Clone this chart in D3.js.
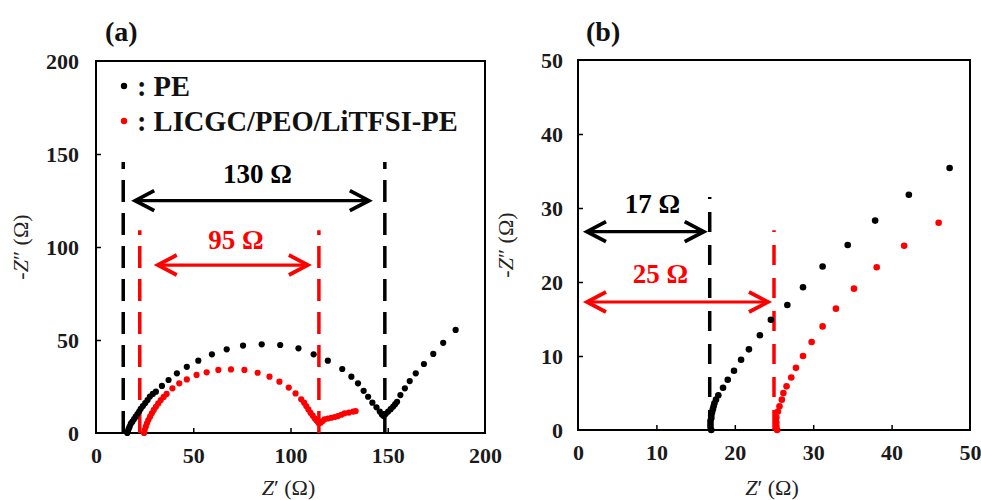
<!DOCTYPE html>
<html><head><meta charset="utf-8">
<script src="https://cdn.jsdelivr.net/npm/d3@7"></script>
<style>
html,body{margin:0;padding:0;background:#fff;}
svg{display:block;}
text{font-family:"Liberation Serif","DejaVu Serif",serif;}
</style></head>
<body>
<svg id="chart" width="981" height="500"></svg>
<script>
// ---------- data ----------
const seriesNames = ["PE", "LICGC/PEO/LiTFSI-PE"];
const seriesColors = ["#000000", "#ff0000"];

// Panel (a): Nyquist plot, full range
const aPE_x = [16.1,16.4,16.8,17.3,17.9,18.7,19.6,20.4,21.3,22.2,23.0,24.1,25.3,26.5,27.7,29.2,30.8,33.9,37.3,41.6,46.7,52.6,59.6,67.2,75.6,85.2,94.7,104.1,111.9,119.2,126.6,131.3,134.7,137.6,139.9,142.1,144.2,145.9,147.0,147.9,149.0,150.2,151.5,152.8,153.8,154.8,156.5,158.8,161.3,164.4,168.6,173.4,178.5,184.9];
const aPE_y = [0.0,1.0,2.2,3.4,5.0,6.1,7.5,8.8,10.2,11.5,13.0,14.5,16.1,17.7,19.6,21.0,22.2,25.3,28.5,32.1,35.6,38.9,42.3,45.0,47.0,47.7,47.3,45.5,42.3,38.9,34.4,30.3,26.7,22.7,19.5,16.3,13.8,11.5,10.0,9.1,10.3,11.5,12.8,14.2,15.5,16.8,20.4,24.0,27.9,32.1,37.1,42.5,48.5,55.4];
const aLI_x = [24.7,25.0,25.6,26.2,26.9,27.8,28.7,29.7,30.8,32.0,33.3,34.8,36.3,39.3,42.8,46.7,51.7,56.9,62.9,69.4,76.3,83.1,89.2,94.3,99.1,102.6,105.5,107.0,108.1,109.2,110.3,111.4,112.4,113.3,114.1,114.6,115.5,116.5,117.5,119.2,121.0,122.7,124.4,126.1,127.8,130.0,132.2,133.5];
const aLI_y = [0.0,1.6,3.4,5.2,7.0,8.8,10.6,12.4,14.1,15.9,17.7,19.4,21.0,24.0,26.7,28.8,31.2,32.6,33.9,34.2,33.9,32.4,30.3,27.6,24.4,21.3,18.1,16.3,14.5,12.7,10.9,9.4,7.9,6.8,6.0,5.2,5.5,6.4,7.4,7.8,8.2,8.6,9.1,9.8,10.6,11.0,11.5,11.8];

// Panel (b): high-frequency zoom
const bPE_x = [17.0,16.9,16.9,16.9,17.0,17.0,17.1,17.2,17.3,17.4,17.6,17.9,18.5,19.1,19.9,20.8,21.8,23.2,24.6,26.7,28.7,31.2,34.4,37.9,42.2,47.4];
const bPE_y = [0.0,0.4,0.8,1.2,1.6,2.0,2.4,2.8,3.2,3.6,4.1,4.7,5.7,6.8,8.0,9.5,10.9,12.8,14.9,16.9,19.3,22.1,25.0,28.3,31.8,35.4];
const bLI_x = [25.4,25.3,25.3,25.3,25.5,25.7,26.0,26.2,26.6,27.2,27.8,28.7,29.8,31.2,32.9,35.2,38.1,41.6,46.0];
const bLI_y = [0.0,0.5,1.0,1.7,2.5,3.2,4.1,5.0,5.9,7.1,8.4,10.0,11.9,14.0,16.4,19.1,22.0,24.9,28.0];

// axes / ticks
const aTicks = [0, 50, 100, 150, 200];
const bTicks = [0, 10, 20, 30, 40, 50];
const panelLabels = ["(a)", "(b)"];

// annotations: resistance markers
const aMarkers = [
  {x0: 14.0, x1: 148.5, ay: 124.9, top: 145.7, label: "130 Ω", c: 0, lx: 83, ly: 134.5},
  {x0: 22.5, x1: 114.6, ay: 90.3, top: 109.0, label: "95 Ω", c: 1, lx: 72, ly: 99}
];
const bMarkers = [
  {x0: 0, x1: 16.8, ay: 26.8, top: 31.5, label: "17 Ω", c: 0, lx: 9.5, ly: 29.3},
  {x0: 0, x1: 25.0, ay: 17.3, top: 27.0, label: "25 Ω", c: 1, lx: 10.5, ly: 19.8}
];

// ---------- drawing ----------
const svg = d3.select("#chart");
function zip(xs, ys){ return xs.map((x,i)=>[x, ys[i]]); }

function panel(opts){
  const {xr, yr, xd, ticks, label, labelX, ytitleX, tickPadY} = opts;
  const x = d3.scaleLinear().domain(xd).range(xr);
  const y = d3.scaleLinear().domain(xd).range(yr);
  const g = svg.append("g");

  const xa = g.append("g").attr("transform", `translate(0,${yr[0]})`)
    .call(d3.axisBottom(x).tickValues(ticks).tickSize(-5).tickPadding(14));
  const ya = g.append("g").attr("transform", `translate(${xr[0]},0)`)
    .call(d3.axisLeft(y).tickValues(ticks).tickSize(-5).tickPadding(tickPadY));
  [xa, ya].forEach(a=>{
    a.select(".domain").remove();
    a.selectAll(".tick line").attr("stroke","#000").attr("stroke-width",1.5);
    a.selectAll(".tick text").attr("font-size",22).attr("font-weight","bold")
      .attr("fill","#1a1a1a").style("font-family",'"Liberation Serif",serif');
  });
  xa.selectAll(".tick").filter(d=>d===ticks[0] || d===ticks[ticks.length-1]).select("line").remove();
  ya.selectAll(".tick").filter(d=>d===ticks[0] || d===ticks[ticks.length-1]).select("line").remove();

  g.append("rect").attr("x",xr[0]).attr("y",yr[1]).attr("width",xr[1]-xr[0]).attr("height",yr[0]-yr[1])
    .attr("fill","none").attr("stroke","#000").attr("stroke-width",2);

  g.append("text").attr("x",(xr[0]+xr[1])/2 - 2).attr("y",495).attr("text-anchor","middle")
    .attr("font-size",22).attr("fill","#222")
    .html('<tspan font-style="italic">Z</tspan>′ (Ω)');
  g.append("text").attr("transform",`translate(${ytitleX},${(yr[0]+yr[1])/2})rotate(-90)`)
    .attr("text-anchor","middle").attr("font-size",22).attr("fill","#222")
    .html('-<tspan font-style="italic">Z</tspan>″ (Ω)');
  g.append("text").attr("x",labelX).attr("y",41).attr("font-size",28).attr("font-weight","bold")
    .attr("fill","#111").text(label);
  return {g, x, y};
}

function drawMarkers(P, markers, opts){
  const {g, x, y} = P;
  markers.forEach(m=>{
    const col = seriesColors[m.c];
    const verts = opts.leftLine ? [m.x0, m.x1] : [m.x1];
    verts.forEach(v=>{
      g.append("line").attr("x1",x(v)).attr("x2",x(v)).attr("y1",y(0)).attr("y2",y(m.top))
        .attr("stroke",col).attr("stroke-width",3.5).attr("stroke-dasharray",opts.dash);
    });
  });
}

function drawArrows(P, markers, insets){
  const {g, x, y} = P;
  markers.forEach((m,i)=>{
    const col = seriesColors[m.c];
    const ax0 = x(m.x0) + insets[i][0], ax1 = x(m.x1) - insets[i][1], ay = y(m.ay);
    g.append("line").attr("x1",ax0+2).attr("x2",ax1-2).attr("y1",ay).attr("y2",ay)
      .attr("stroke",col).attr("stroke-width",3.2);
    const hl = 19, hw = 10;
    g.append("path").attr("d",`M${ax0+hl},${ay-hw}L${ax0},${ay}L${ax0+hl},${ay+hw}`)
      .attr("fill","none").attr("stroke",col).attr("stroke-width",3.8).attr("stroke-linejoin","miter");
    g.append("path").attr("d",`M${ax1-hl},${ay-hw}L${ax1},${ay}L${ax1-hl},${ay+hw}`)
      .attr("fill","none").attr("stroke",col).attr("stroke-width",3.8).attr("stroke-linejoin","miter");
    g.append("text").attr("x",x(m.lx)).attr("y",y(m.ly)).attr("text-anchor","middle")
      .attr("font-size",27).attr("font-weight","bold").attr("fill",col).text(m.label);
  });
}

function drawDots(P, data, color, r){
  P.g.append("g").selectAll("circle").data(data).join("circle")
    .attr("cx",d=>P.x(d[0])).attr("cy",d=>P.y(d[1])).attr("r",r).attr("fill",color);
}

// Panel (a)
const A = panel({xr:[96,485], yr:[433,61], xd:[0,200], ticks:aTicks, label:panelLabels[0],
  labelX:105, ytitleX:28, tickPadY:17});
drawMarkers(A, aMarkers, {leftLine:true, dash:"22,11"});
drawDots(A, zip(aPE_x, aPE_y), seriesColors[0], 3.1);
drawDots(A, zip(aLI_x, aLI_y), seriesColors[1], 3.1);
drawArrows(A, aMarkers, [[12,16],[18,11]]);

// legend
const leg = svg.append("g");
seriesNames.forEach((n,i)=>{
  const ly = 86 + i*35;
  leg.append("circle").attr("cx",124).attr("cy",ly).attr("r",3.2).attr("fill",seriesColors[i]);
  leg.append("text").attr("x",137).attr("y",ly+10).attr("font-size",28.5).attr("font-weight","bold")
    .attr("fill","#111").text(": " + n);
});

// Panel (b)
const B = panel({xr:[578,970], yr:[430,60], xd:[0,50], ticks:bTicks, label:panelLabels[1],
  labelX:586, ytitleX:513, tickPadY:15});
drawMarkers(B, bMarkers, {leftLine:false, dash:"20,13"});
drawDots(B, zip(bPE_x, bPE_y), seriesColors[0], 3.3);
drawDots(B, zip(bLI_x, bLI_y), seriesColors[1], 3.3);
drawArrows(B, bMarkers, [[9,6],[9,6]]);
</script>
</body></html>
